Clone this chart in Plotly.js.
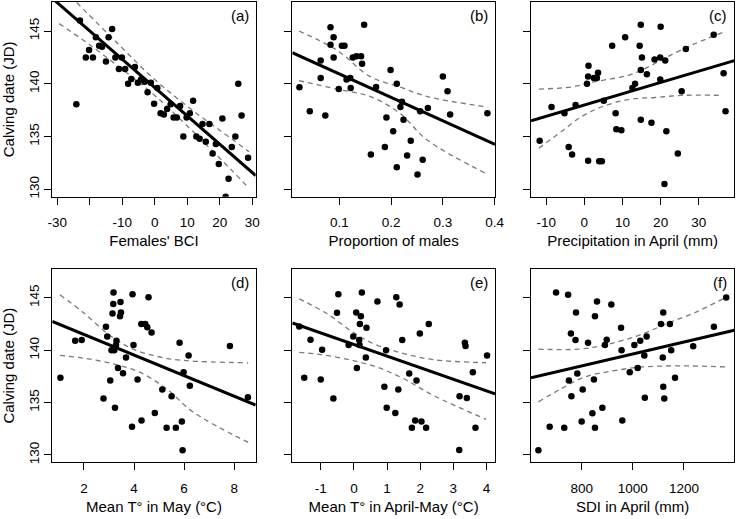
<!DOCTYPE html>
<html>
<head>
<meta charset="utf-8">
<script src="https://cdn.plot.ly/plotly-3.0.1.min.js"></script>
<style>html,body{margin:0;padding:0;background:#fff;}#chart{width:737px;height:519px;}</style>
</head>
<body>
<div id="chart"></div>
<script>
// ---------------- DATA ----------------
// (a) Females' BCI
const aX = [-23.0,-24.1,-21.2,-20.2,-19.0,-18.1,-17.1,-16.2,-15.0,-14.2,-13.1,-12.1,-11.0,-10.1,-9.1,-8.2,-7.2,-6.1,-5.2,-4.2,-3.1,-2.2,-1.2,-0.2,0.8,1.8,2.8,3.8,4.9,5.8,6.8,7.8,8.8,9.8,10.8,11.8,12.8,13.8,14.7,15.7,16.8,17.8,18.8,19.7,20.8,21.8,22.7,23.7,24.8,25.7,26.7,28.7];
const aY = [146.0,138.05,142.5,143.2,142.5,144.4,143.6,143.5,142.1,144.4,145.2,142.5,141.4,142.5,141.4,140.0,140.45,141.6,140.1,140.4,140.2,139.2,140.1,138.1,139.6,137.2,137.1,137.6,138.05,136.8,136.8,137.9,135.0,136.8,137.2,138.4,135.0,134.8,136.2,134.5,136.2,133.4,134.3,132.4,136.7,129.3,131.0,134.0,135.0,140.0,137.0,133.0];
const aFitX = [-31.5, 31.05];
const aFitY = [148.1, 131.3];
const aUpX = [-24, -12, 0, 12, 24, 29];
const aUpY = [147.7, 144.0, 140.4, 137.4, 134.7, 133.55];
const aLoX = [-29.4, -20, -10, 0, 12, 24, 29];
const aLoY = [145.7, 143.7, 141.37, 138.9, 135.4, 131.7, 130.1];

// (b) Proportion of males
const bX = [0.023,0.043,0.064,0.064,0.073,0.083,0.083,0.089,0.089,0.099,0.105,0.110,0.114,0.121,0.122,0.126,0.133,0.142,0.144,0.148,0.161,0.171,0.188,0.191,0.199,0.204,0.211,0.211,0.218,0.221,0.224,0.238,0.231,0.251,0.256,0.261,0.271,0.300,0.309,0.314,0.386];
const bY = [139.66,137.4,142.2,140.55,137.0,145.35,143.7,144.4,142.5,139.5,143.6,143.6,140.4,140.55,139.6,142.5,142.6,142.6,141.9,145.6,133.3,139.7,134.0,136.8,141.3,135.5,140.0,132.1,137.8,138.3,136.6,134.6,133.2,131.4,137.4,132.8,137.7,140.7,139.3,137.1,137.2];
const bFitX = [0.0092, 0.4007];
const bFitY = [142.95, 134.26];
const bUpX = [0.022, 0.095, 0.159, 0.217, 0.269, 0.387];
const bUpY = [145.0, 143.2, 140.7, 139.7, 138.8, 137.8];
const bLoX = [0.022, 0.095, 0.159, 0.217, 0.269, 0.387];
const bLoY = [140.3, 139.5, 138.8, 137.2, 134.7, 131.4];

// (c) Precipitation in April (mm)
const cX = [-11.7,-8.6,-5.2,-4.1,-3.2,-2.3,0.7,1.0,1.1,1.0,2.5,3.3,3.6,3.9,4.6,5.1,7.3,8.2,8.4,9.7,10.7,12.6,13.3,14.5,14.8,14.8,15.1,14.8,16.4,17.6,18.4,19.9,20.0,19.9,21.2,21.5,21.0,24.5,25.5,26.6,33.9,36.5,37.0];
const cY = [134.6,137.8,137.2,134.0,133.3,138.0,140.0,140.7,141.7,132.7,140.55,140.55,141.05,132.65,132.65,138.4,143.6,137.2,135.7,135.6,144.4,139.6,140.0,143.6,145.6,141.3,142.5,136.6,140.9,136.3,142.3,142.5,145.4,140.4,142.2,135.5,130.5,133.4,139.3,143.3,144.65,141.0,137.4];
const cFitX = [-13.97, 39.3];
const cFitY = [136.5, 142.2];
const cUpX = [-11.9, -3.3, 2.8, 11.5, 16.8, 22.0, 29.0, 36.2];
const cUpY = [139.5, 139.7, 140.2, 140.8, 141.6, 142.6, 143.8, 144.85];
const cLoX = [-11.9, -5.9, -0.7, 4.5, 11.5, 18.5, 25.5, 36.2];
const cLoY = [133.9, 135.5, 136.9, 137.8, 138.5, 138.7, 138.9, 138.9];

// (d) Mean T° in May (°C)
const dX = [1.06,1.65,1.91,2.78,2.88,2.93,3.05,3.10,3.14,3.17,3.18,3.21,3.24,3.28,3.30,3.36,3.44,3.48,3.46,3.56,3.68,3.92,3.94,3.98,4.14,4.30,4.29,4.45,4.53,4.58,4.70,4.83,5.13,5.30,5.50,5.67,5.82,5.91,5.94,5.98,6.18,6.23,7.83,8.55];
const dY = [137.36,140.9,140.97,135.4,142.24,141.3,137.1,140.0,143.5,144.4,145.5,140.0,134.5,140.5,140.9,138.3,143.25,143.6,144.6,137.8,139.3,132.7,145.35,140.5,137.2,133.3,142.5,142.5,142.2,145.05,141.7,134.0,136.25,132.6,135.6,132.6,140.7,133.2,130.44,137.9,139.5,136.6,140.4,135.5];
const dFitX = [0.736, 8.86];
const dFitY = [142.75, 134.76];
const dUpX = [1.04, 1.97, 3.04, 3.97, 5.03, 6.1, 8.56];
const dUpY = [145.3, 143.6, 141.4, 140.1, 139.35, 139.0, 138.8];
const dLoX = [1.04, 2.1, 3.17, 4.23, 5.30, 6.36, 8.56];
const dLoY = [139.5, 139.2, 138.7, 137.9, 136.3, 134.1, 131.2];

// (e) Mean T° in April-May (°C)
const eX = [-1.65,-1.50,-1.31,-1.00,-0.96,-0.62,-0.51,-0.47,-0.16,-0.02,0.07,0.09,0.16,0.17,0.18,0.21,0.24,0.36,0.38,0.71,0.92,0.97,0.99,1.25,1.28,1.34,1.38,1.46,1.67,1.75,1.85,1.89,1.99,2.04,2.18,2.26,3.19,3.18,3.35,3.37,3.41,3.59,3.67,4.02];
const eY = [142.27,137.36,141.0,137.2,140.05,135.4,143.57,145.35,140.5,141.3,143.6,138.3,140.97,140.5,142.5,143.25,145.5,139.3,142.15,144.65,136.5,140.0,134.5,134.0,145.06,136.25,144.37,140.97,137.77,132.6,133.3,137.1,141.6,133.2,132.6,142.5,135.6,130.47,140.7,140.4,135.43,137.9,132.6,139.5];
const eFitX = [-1.86, 4.26];
const eFitY = [142.6, 135.83];
const eUpX = [-1.65, -0.82, -0.02, 0.68, 1.49, 2.39, 3.99];
const eUpY = [144.9, 143.5, 141.7, 140.5, 139.7, 139.1, 138.8];
const eLoX = [-1.65, -0.82, -0.02, 0.68, 1.49, 2.39, 3.99];
const eLoY = [139.8, 139.5, 139.0, 138.4, 137.3, 135.7, 133.4];

// (f) SDI in April (mm)
const fX = [631,675,700,732,747,750,758,760,778,776,783,800,804,825,842,848,852,852,860,881,891,898,916,954,956,959,988,1006,1019,1029,1045,1047,1054,1110,1117,1119,1119,1123,1145,1150,1165,1236,1317,1365];
const fY = [130.44,132.7,145.5,132.6,145.3,137.1,141.6,135.6,143.6,140.97,137.77,133.2,136.25,140.7,133.97,137.2,143.25,132.6,144.65,134.5,140.5,141.0,144.37,142.15,140.0,133.3,137.9,140.5,138.3,140.9,139.5,135.45,141.3,142.5,139.3,143.6,136.5,135.4,142.5,140.0,137.36,140.37,142.24,145.03];
const fFitX = [602, 1396.7];
const fFitY = [137.36, 141.9];
const fUpX = [631, 787, 891, 1021, 1139, 1243, 1365];
const fUpY = [140.1, 140.1, 140.5, 141.4, 142.6, 143.6, 145.06];
const fLoX = [631, 722, 813, 917, 1035, 1191, 1365];
const fLoY = [135.07, 136.35, 137.45, 138.0, 138.4, 138.5, 138.4];

// Axis ticks / labels
const yTickVals = [130, 135, 140, 145];
const yTickText = ['130', '135', '140', '145'];
const aTickVals = [-30, -20, -10, 0, 10, 20, 30];
const aTickText = ['-30', '', '-10', '0', '10', '20', '30'];
const bTickVals = [0.1, 0.2, 0.3, 0.4];
const bTickText = ['0.1', '0.2', '0.3', '0.4'];
const cTickVals = [-10, 0, 10, 20, 30];
const cTickText = ['-10', '0', '10', '20', '30'];
const dTickVals = [2, 4, 6, 8];
const dTickText = ['2', '4', '6', '8'];
const eTickVals = [-1, 0, 1, 2, 3, 4];
const eTickText = ['-1', '0', '1', '2', '3', '4'];
const fTickVals = [800, 1000, 1200];
const fTickText = ['800', '1000', '1200'];

const panelLabels = ['(a)', '(b)', '(c)', '(d)', '(e)', '(f)'];
const xTitles = ["Females' BCI", 'Proportion of males', 'Precipitation in April (mm)',
                 'Mean T° in May (°C)', 'Mean T° in April-May (°C)', 'SDI in April (mm)'];
const yTitle = 'Calving date (JD)';

// ---------------- BUILD ----------------
const panels = [
  {x: aX, y: aY, fx: aFitX, fy: aFitY, ux: aUpX, uy: aUpY, lx: aLoX, ly: aLoY, tv: aTickVals, tt: aTickText, range: [-31.5, 31.05]},
  {x: bX, y: bY, fx: bFitX, fy: bFitY, ux: bUpX, uy: bUpY, lx: bLoX, ly: bLoY, tv: bTickVals, tt: bTickText, range: [0.0092, 0.4007]},
  {x: cX, y: cY, fx: cFitX, fy: cFitY, ux: cUpX, uy: cUpY, lx: cLoX, ly: cLoY, tv: cTickVals, tt: cTickText, range: [-13.97, 39.3]},
  {x: dX, y: dY, fx: dFitX, fy: dFitY, ux: dUpX, uy: dUpY, lx: dLoX, ly: dLoY, tv: dTickVals, tt: dTickText, range: [0.736, 8.86]},
  {x: eX, y: eY, fx: eFitX, fy: eFitY, ux: eUpX, uy: eUpY, lx: eLoX, ly: eLoY, tv: eTickVals, tt: eTickText, range: [-1.86, 4.26]},
  {x: fX, y: fY, fx: fFitX, fy: fFitY, ux: fUpX, uy: fUpY, lx: fLoX, ly: fLoY, tv: fTickVals, tt: fTickText, range: [602, 1396.7]}
];

const W = 737, H = 519;
const colPx = [[52.3, 255.7], [292.3, 495], [531, 734.3]];
const rowPx = [[2, 196.7], [269, 462.3]];
const FONT = 'Liberation Sans, Arial, Helvetica, sans-serif';

const traces = [];
const layout = {
  width: W, height: H,
  margin: {l: 0, r: 0, t: 0, b: 0},
  paper_bgcolor: '#fff', plot_bgcolor: '#fff',
  showlegend: false, hovermode: false,
  font: {family: FONT, color: '#000', size: 13},
  annotations: []
};

panels.forEach((p, i) => {
  const n = i + 1;
  const xa = 'x' + (n === 1 ? '' : n), ya = 'y' + (n === 1 ? '' : n);
  const col = i % 3, row = Math.floor(i / 3);
  traces.push({x: p.ux, y: p.uy, xaxis: xa, yaxis: ya, mode: 'lines', type: 'scatter',
    line: {color: '#7a7a7a', width: 1.3, dash: '5px,4px', shape: 'spline', smoothing: 1}});
  traces.push({x: p.lx, y: p.ly, xaxis: xa, yaxis: ya, mode: 'lines', type: 'scatter',
    line: {color: '#7a7a7a', width: 1.3, dash: '5px,4px', shape: 'spline', smoothing: 1}});
  traces.push({x: p.fx, y: p.fy, xaxis: xa, yaxis: ya, mode: 'lines', type: 'scatter',
    line: {color: '#000', width: 3}});
  traces.push({x: p.x, y: p.y, xaxis: xa, yaxis: ya, mode: 'markers', type: 'scatter',
    marker: {color: '#000', size: 6.5, line: {width: 0}}});

  const leftCol = col === 0;
  layout['xaxis' + (n === 1 ? '' : n)] = {
    domain: [colPx[col][0] / W, colPx[col][1] / W],
    anchor: ya, range: p.range,
    showline: true, mirror: true, linecolor: '#000', linewidth: 1,
    ticks: 'outside', ticklen: 7, tickwidth: 1, tickcolor: '#000',
    ticklabelstandoff: 6,
    tickvals: p.tv, ticktext: p.tt, tickfont: {size: 13.5, family: FONT, color: '#000'},
    showgrid: false, zeroline: false,
    title: {text: xTitles[i], font: {size: 15, family: FONT, color: '#000'}, standoff: 6}
  };
  layout['yaxis' + (n === 1 ? '' : n)] = {
    domain: [1 - rowPx[row][1] / H, 1 - rowPx[row][0] / H],
    anchor: xa, range: [129.3, 147.75],
    showline: true, mirror: true, linecolor: '#000', linewidth: 1,
    ticks: 'outside', ticklen: 7, tickwidth: 1, tickcolor: '#000',
    tickvals: yTickVals, ticktext: yTickText, tickangle: -90,
    showticklabels: leftCol,
    tickfont: {size: 13.5, family: FONT, color: '#000'},
    showgrid: false, zeroline: false,
    title: leftCol ? {text: yTitle, font: {size: 15, family: FONT, color: '#000'}, standoff: 8} : {text: ''}
  };
  layout.annotations.push({
    text: panelLabels[i], xref: xa + ' domain', yref: ya + ' domain',
    x: 1, y: 1, xanchor: 'right', yanchor: 'top', xshift: -5, yshift: -3,
    showarrow: false, font: {size: 15, family: FONT, color: '#000'}
  });
});

Plotly.newPlot('chart', traces, layout, {staticPlot: true, displayModeBar: false});
</script>
</body>
</html>
